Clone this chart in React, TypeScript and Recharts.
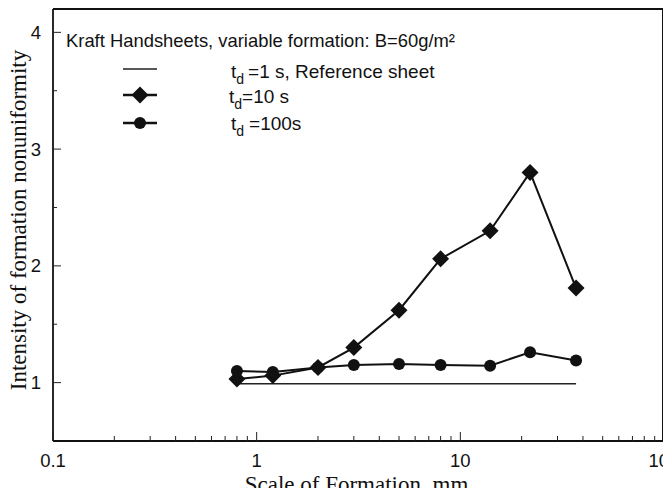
import React from "react";
import { LineChart, Line, XAxis, YAxis, Legend, ReferenceLine } from "recharts";

// scale of formation (mm) and intensity values
const scaleMm = [0.8, 1.2, 2, 3, 5, 8, 14, 22, 37];
const td10 = [1.03, 1.06, 1.13, 1.3, 1.62, 2.06, 2.3, 2.8, 1.81];
const td100 = [1.1, 1.09, 1.13, 1.15, 1.16, 1.15, 1.145, 1.26, 1.19];
const refScale = [0.8, 37];
const refValue = [0.99, 0.99];

const xMajor = [0.1, 1, 10, 100];
const xMinor = [0.2, 0.3, 0.4, 0.5, 0.6, 0.7, 0.8, 0.9, 2, 3, 4, 5, 6, 7, 8, 9, 20, 30, 40, 50, 60, 70, 80, 90];
const yTicks = [1, 1.5, 2, 2.5, 3, 3.5, 4];
const yLabels = [1, 2, 3, 4];
const xDomain = [0.1, 100];
const yDomain = [0.5, 4.2];

const title = "Kraft Handsheets, variable formation: B=60g/m²";
const legendRest = ["=1 s, Reference sheet", "=10 s", "=100s"];

const refData = refScale.map((x, i) => ({ x, y: refValue[i] }));
const d10 = scaleMm.map((x, i) => ({ x, y: td10[i] }));
const d100 = scaleMm.map((x, i) => ({ x, y: td100[i] }));

const SANS = "'Liberation Sans', Arial, sans-serif";
const SERIF = "'Liberation Serif', 'Times New Roman', serif";
const W = 671;
const H = 496;
const M = { top: 9, right: 7, bottom: 0, left: 0 };
const Y_W = 53;
const X_H = 55;
const Y_MARGIN = 12;
const X_MARGIN = 26;

const YTick = (p: any) => {
  const v = p.payload.value;
  const ax = p.x + Y_MARGIN;
  const major = yLabels.includes(v);
  return (
    <g>
      <line x1={ax} x2={ax + (major ? 8 : 4)} y1={p.y} y2={p.y} stroke="#222" strokeWidth={1} />
      {major && (
        <text x={p.x} y={p.y} textAnchor="end" dominantBaseline="central" fontFamily={SANS} fontSize={18.5} fill="#111">
          {v}
        </text>
      )}
    </g>
  );
};

const XTick = (p: any) => {
  const v = p.payload.value;
  const ay = p.y - X_MARGIN;
  const major = xMajor.includes(v);
  return (
    <g>
      <line x1={p.x} x2={p.x} y1={ay} y2={ay - (major ? 9 : 5)} stroke="#222" strokeWidth={1} />
      {major && (
        <text x={p.x} y={p.y} textAnchor="middle" fontFamily={SANS} fontSize={18.5} fill="#111">
          {v}
        </text>
      )}
    </g>
  );
};

const Diamond = (p: any) => {
  const { cx, cy, index } = p;
  if (cx == null || cy == null) return <g key={index} />;
  const h = 8.5;
  return <path key={index} d={`M${cx},${cy - h}L${cx + h},${cy}L${cx},${cy + h}L${cx - h},${cy}Z`} fill="#111" />;
};

const Dot = (p: any) => {
  const { cx, cy, index } = p;
  if (cx == null || cy == null) return <g key={index} />;
  return <circle key={index} cx={cx} cy={cy} r={6} fill="#111" />;
};

const LegendBox = () => {
  const rows = [69, 95, 123];
  const textY = [78, 103, 130];
  const textX = [231, 229, 231];
  const gap = [4, 0, 5];
  return (
    <svg width={W} height={145} style={{ display: "block" }}>
      <text x={66} y={47} fontFamily={SANS} fontSize={18.4} fill="#111">
        {title}
      </text>
      <line x1={123} x2={157} y1={rows[0]} y2={rows[0]} stroke="#222" strokeWidth={1.5} />
      <line x1={123} x2={157} y1={rows[1]} y2={rows[1]} stroke="#111" strokeWidth={2.5} />
      <path d={`M140,${rows[1] - 8.5}L148.5,${rows[1]}L140,${rows[1] + 8.5}L131.5,${rows[1]}Z`} fill="#111" />
      <line x1={123} x2={157} y1={rows[2]} y2={rows[2]} stroke="#111" strokeWidth={2.5} />
      <circle cx={140} cy={rows[2]} r={6} fill="#111" />
      {legendRest.map((t, i) => (
        <text key={i} x={textX[i]} y={textY[i]} fontFamily={SANS} fontSize={19} fill="#111">
          t
          <tspan dy={6} fontSize={14}>d</tspan>
          <tspan dy={-6} dx={gap[i]}>{t}</tspan>
        </text>
      ))}
    </svg>
  );
};

export default function App() {
  const plotLeft = M.left + Y_W;
  const plotRight = W - M.right;
  const plotBottom = H - M.bottom - X_H;
  return (
    <div style={{ position: "relative", margin: -8, width: W, height: H, background: "#fff" }}>
      <LineChart width={W} height={H} margin={M}>
        <XAxis
          dataKey="x"
          type="number"
          scale="log"
          domain={xDomain}
          allowDataOverflow
          ticks={[...xMajor, ...xMinor]}
          interval={0}
          height={X_H}
          tickSize={0}
          tickMargin={X_MARGIN}
          tick={<XTick />}
          axisLine={{ stroke: "#111", strokeWidth: 1.8 }}
          label={{
            content: (p: any) => (
              <text
                x={p.viewBox.x + p.viewBox.width / 2 - 2}
                y={p.viewBox.y + 51}
                textAnchor="middle"
                fontFamily={SERIF}
                fontSize={23}
                fill="#111"
              >
                Scale of Formation, mm
              </text>
            ),
          }}
        />
        <YAxis
          type="number"
          domain={yDomain}
          allowDataOverflow
          ticks={yTicks}
          interval={0}
          width={Y_W}
          tickSize={0}
          tickMargin={Y_MARGIN}
          tick={<YTick />}
          axisLine={{ stroke: "#111", strokeWidth: 1.8 }}
          label={{
            content: (p: any) => {
              const cx = 18;
              const cy = p.viewBox.y + p.viewBox.height / 2 - 5;
              return (
                <text
                  x={cx}
                  y={cy}
                  transform={`rotate(-90, ${cx}, ${cy})`}
                  textAnchor="middle"
                  dominantBaseline="central"
                  fontFamily={SERIF}
                  fontSize={23}
                  fill="#111"
                >
                  Intensity of formation nonuniformity
                </text>
              );
            },
          }}
        />
        <ReferenceLine y={yDomain[1]} stroke="#111" strokeWidth={1.8} ifOverflow="visible" />
        <ReferenceLine x={xDomain[1]} stroke="#111" strokeWidth={1.8} ifOverflow="visible" />
        <Line data={refData} dataKey="y" stroke="#222" strokeWidth={1.5} dot={false} isAnimationActive={false} />
        <Line data={d10} dataKey="y" stroke="#111" strokeWidth={2} dot={<Diamond />} isAnimationActive={false} />
        <Line data={d100} dataKey="y" stroke="#111" strokeWidth={2} dot={<Dot />} isAnimationActive={false} />
        <Legend
          layout="horizontal"
          verticalAlign="middle"
          align="center"
          content={<LegendBox />}
          wrapperStyle={{ position: "absolute", left: 0, top: 0, width: W, height: 145, pointerEvents: "none" }}
        />
      </LineChart>
      {/* top and right edges of the plot box */}
      <div
        style={{
          position: "absolute",
          left: plotLeft,
          top: M.top - 1,
          width: plotRight - plotLeft,
          height: plotBottom - M.top + 1,
          borderTop: "2px solid #111",
          borderRight: "2px solid #111",
          boxSizing: "border-box",
          zIndex: 5,
          pointerEvents: "none",
        }}
      />
    </div>
  );
}
